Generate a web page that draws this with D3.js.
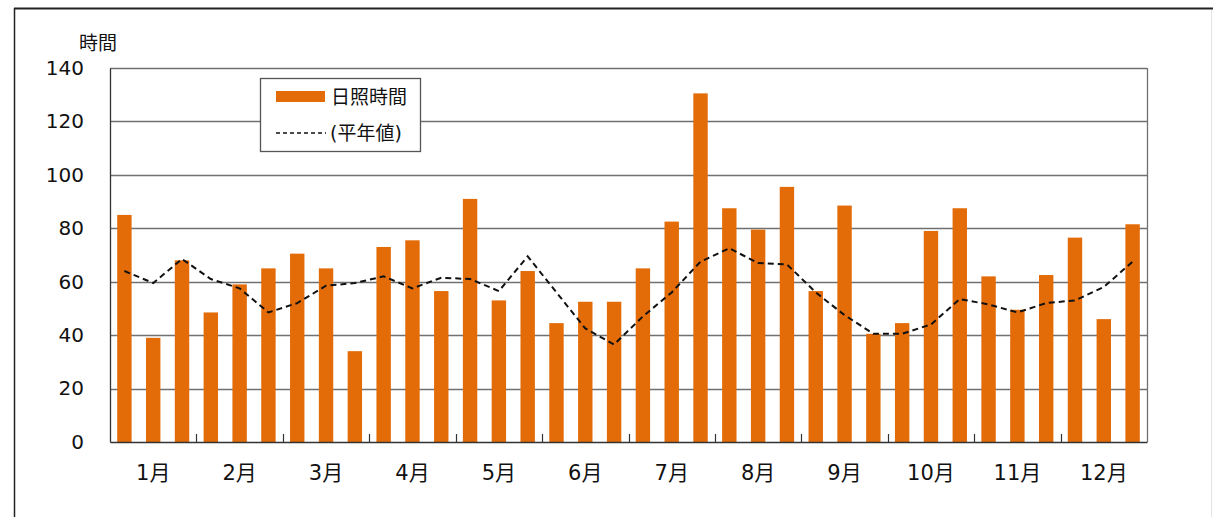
<!DOCTYPE html>
<html lang="ja">
<head>
<meta charset="UTF-8">
<title>日照時間</title>
<script src="https://d3js.org/d3.v7.min.js"></script>
<style>
  body { margin: 0; background: #fff; }
  text { font-family: "DejaVu Sans", "Noto Sans CJK JP", sans-serif; fill: #111; }
</style>
</head>
<body>
<script>
// 36 dekads (上旬/中旬/下旬 per month)
const months = ["1月","2月","3月","4月","5月","6月","7月","8月","9月","10月","11月","12月"];
const sunshine = [85, 39, 68, 48.5, 59, 65, 70.5, 65, 34, 73, 75.5, 56.5,
                  91, 53, 64, 44.5, 52.5, 52.5, 65, 82.5, 130.5, 87.5, 79.5, 95.5,
                  56.5, 88.5, 40.5, 44.5, 79, 87.5, 62, 49.5, 62.5, 76.5, 46, 81.5];
const normal = [64, 59.5, 68.5, 61, 57.5, 48.5, 52, 58.5, 59.5, 62, 57.5, 61.5,
                61, 56.5, 69.5, 56, 42.5, 36.5, 47, 56, 67.5, 72.5, 67, 66.5,
                56, 47.5, 40.5, 40.5, 44, 53.5, 51.5, 48.5, 52, 53, 58, 67.5];
const yTicks = [0, 20, 40, 60, 80, 100, 120, 140];

const W = 1213, H = 517;
const plot = {left: 110, right: 1147, top: 68, bottom: 442};

const svg = d3.select("body").append("svg")
    .attr("width", W).attr("height", H);

// outer frame
svg.append("line").attr("x1", 14).attr("x2", 1213).attr("y1", 8.5).attr("y2", 8.5)
    .attr("stroke", "#222").attr("stroke-width", 2);
svg.append("line").attr("x1", 14.5).attr("x2", 14.5).attr("y1", 8).attr("y2", H)
    .attr("stroke", "#222").attr("stroke-width", 1.5);
svg.append("line").attr("x1", 1211.5).attr("x2", 1211.5).attr("y1", 10).attr("y2", H)
    .attr("stroke", "#e4e4e4").attr("stroke-width", 1);

const idx = d3.range(sunshine.length);
const x = d3.scaleBand().domain(idx).range([plot.left, plot.right]).paddingInner(0.5).paddingOuter(0.25);
const xm = d3.scaleBand().domain(months).range([plot.left, plot.right]);
const y = d3.scaleLinear().domain([0, 140]).range([plot.bottom, plot.top]);

// gridlines
svg.append("g").selectAll("line").data(yTicks.filter(d => d > 0)).join("line")
    .attr("x1", plot.left).attr("x2", plot.right)
    .attr("y1", d => Math.round(y(d)) + 0.5).attr("y2", d => Math.round(y(d)) + 0.5)
    .attr("stroke", "#707070").attr("stroke-width", 1.3);

// right border
svg.append("line").attr("x1", plot.right + 0.5).attr("x2", plot.right + 0.5)
    .attr("y1", plot.top).attr("y2", plot.bottom)
    .attr("stroke", "#707070").attr("stroke-width", 1.3);

// bars
svg.append("g").selectAll("rect").data(sunshine).join("rect")
    .attr("x", (d, i) => x(i))
    .attr("width", x.bandwidth())
    .attr("y", d => y(d))
    .attr("height", d => y(0) - y(d))
    .attr("fill", "#E36C09");

// y axis
const yAxis = svg.append("g").attr("transform", `translate(${plot.left},0)`)
    .call(d3.axisLeft(y).tickValues(yTicks).tickSize(0).tickPadding(26));
yAxis.select(".domain").attr("stroke", "#333").attr("stroke-width", 1.3);
yAxis.selectAll("text").attr("font-size", 20).style("fill", "#111");

// x axis: month boundaries ticks and labels
const xAxis = svg.append("g").attr("transform", `translate(0,${plot.bottom})`)
    .call(d3.axisBottom(xm).tickSize(0).tickPadding(23));
xAxis.select(".domain").attr("stroke", "#333").attr("stroke-width", 1.3);
xAxis.selectAll("text").attr("font-size", 21).style("fill", "#111");

svg.append("g").selectAll("line").data(months.slice(1)).join("line")
    .attr("x1", d => Math.round(xm(d)) + 0.5).attr("x2", d => Math.round(xm(d)) + 0.5)
    .attr("y1", plot.bottom).attr("y2", plot.bottom - 8)
    .attr("stroke", "#333").attr("stroke-width", 1.2);

// normal line
const line = d3.line()
    .x((d, i) => x(i) + x.bandwidth() / 2)
    .y(d => y(d));
svg.append("path").datum(normal)
    .attr("d", line)
    .attr("fill", "none")
    .attr("stroke", "#111")
    .attr("stroke-width", 2)
    .attr("stroke-dasharray", "6,4");

// y unit
svg.append("text").attr("x", 79).attr("y", 50).attr("font-size", 19).text("時間");

// legend
const lg = svg.append("g").attr("transform", "translate(260,78)");
lg.append("rect").attr("x", 0.5).attr("y", 0.5).attr("width", 160).attr("height", 73)
    .attr("fill", "#fff").attr("stroke", "#555").attr("stroke-width", 1.3);
lg.append("rect").attr("x", 16).attr("y", 13).attr("width", 49).attr("height", 11)
    .attr("fill", "#E36C09");
lg.append("text").attr("x", 71).attr("y", 26).attr("font-size", 19).text("日照時間");
lg.append("line").attr("x1", 16).attr("x2", 66).attr("y1", 55).attr("y2", 55)
    .attr("stroke", "#111").attr("stroke-width", 1.5).attr("stroke-dasharray", "4,3");
lg.append("text").attr("x", 70).attr("y", 62).attr("font-size", 19).text("(平年値)");
</script>
</body>
</html>
